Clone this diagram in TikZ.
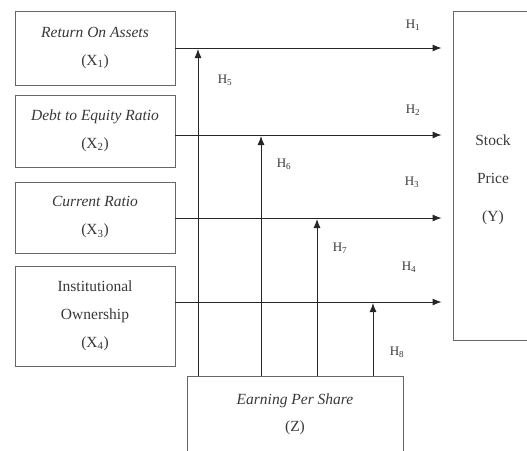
\documentclass[tikz,border=0pt]{standalone}
\usepackage{fontspec}
\setmainfont{Liberation Serif}
\usetikzlibrary{arrows.meta}
\definecolor{txt}{gray}{0.22}
\definecolor{bord}{gray}{0.40}
\tikzset{
  box/.style={draw=bord, line width=0.9pt, rectangle, inner sep=0pt, align=center, text=txt, font=\fontsize{15.5}{28}\selectfont},
  conn/.style={draw=black!85, line width=0.9pt},
  arr/.style={conn, -{Latex[length=9pt,width=7pt]}},
  hlab/.style={text=txt, font=\fontsize{13}{15}\selectfont, inner sep=0pt}
}
\begin{document}
\begin{tikzpicture}[x=1pt,y=-1pt]
\useasboundingbox (0,0) rectangle (527,450);
\clip (0,0) rectangle (527,450);
% boxes
\node[box, minimum width=160pt, minimum height=74pt] (x1) at (95,48) {\textit{Return On Assets}\\(X\textsubscript{1})};
\node[box, minimum width=160pt, minimum height=72pt] (x2) at (95,131) {\textit{Debt to Equity Ratio}\\(X\textsubscript{2})};
\node[box, minimum width=160pt, minimum height=71pt] (x3) at (95,217.5) {\textit{Current Ratio}\\(X\textsubscript{3})};
\node[box, minimum width=160pt, minimum height=100pt] (x4) at (95,316) {Institutional\\Ownership\\(X\textsubscript{4})};
\node[box, minimum width=160pt, minimum height=329pt, font=\fontsize{15.5}{38}\selectfont, text width=80pt] (y) at (533,175.5) {};
\node[text=txt, font=\fontsize{15.5}{38}\selectfont, align=center] (ylab) at (493,180) {Stock\\Price\\(Y)};
\node[box, minimum width=216pt, minimum height=100pt] (z) at (295,426) {};
\node[text=txt, font=\fontsize{15.5}{27}\selectfont, align=center] (zlab) at (295,414) {\textit{Earning Per Share}\\(Z)};
% coordinates for line levels
\coordinate (c1) at (0,48);
\coordinate (c2) at (0,135);
\coordinate (c3) at (0,218);
\coordinate (c4) at (0,302);
\coordinate (v1) at (198,0);
\coordinate (v2) at (261,0);
\coordinate (v3) at (317,0);
\coordinate (v4) at (373,0);
% horizontal arrows
\draw[arr, shorten >=11pt] (x1.east |- c1) -- (y.west |- c1);
\draw[arr, shorten >=11pt] (x2.east |- c2) -- (y.west |- c2);
\draw[arr, shorten >=11pt] (x3.east |- c3) -- (y.west |- c3);
\draw[arr, shorten >=11pt] (x4.east |- c4) -- (y.west |- c4);
% vertical arrows
\draw[arr, shorten >=1pt] (z.north -| v1) -- (v1 |- c1);
\draw[arr, shorten >=1pt] (z.north -| v2) -- (v2 |- c2);
\draw[arr, shorten >=1pt] (z.north -| v3) -- (v3 |- c3);
\draw[arr, shorten >=1pt] (z.north -| v4) -- (v4 |- c4);
% labels
\node[hlab] (h1) at (413,25) {H\textsubscript{1}};
\node[hlab] (h2) at (413,110) {H\textsubscript{2}};
\node[hlab] (h3) at (412,182) {H\textsubscript{3}};
\node[hlab] (h4) at (409,267) {H\textsubscript{4}};
\node[hlab] (h5) at (225,80) {H\textsubscript{5}};
\node[hlab] (h6) at (284,164) {H\textsubscript{6}};
\node[hlab] (h7) at (340,248) {H\textsubscript{7}};
\node[hlab] (h8) at (397,352) {H\textsubscript{8}};
\end{tikzpicture}
\end{document}
